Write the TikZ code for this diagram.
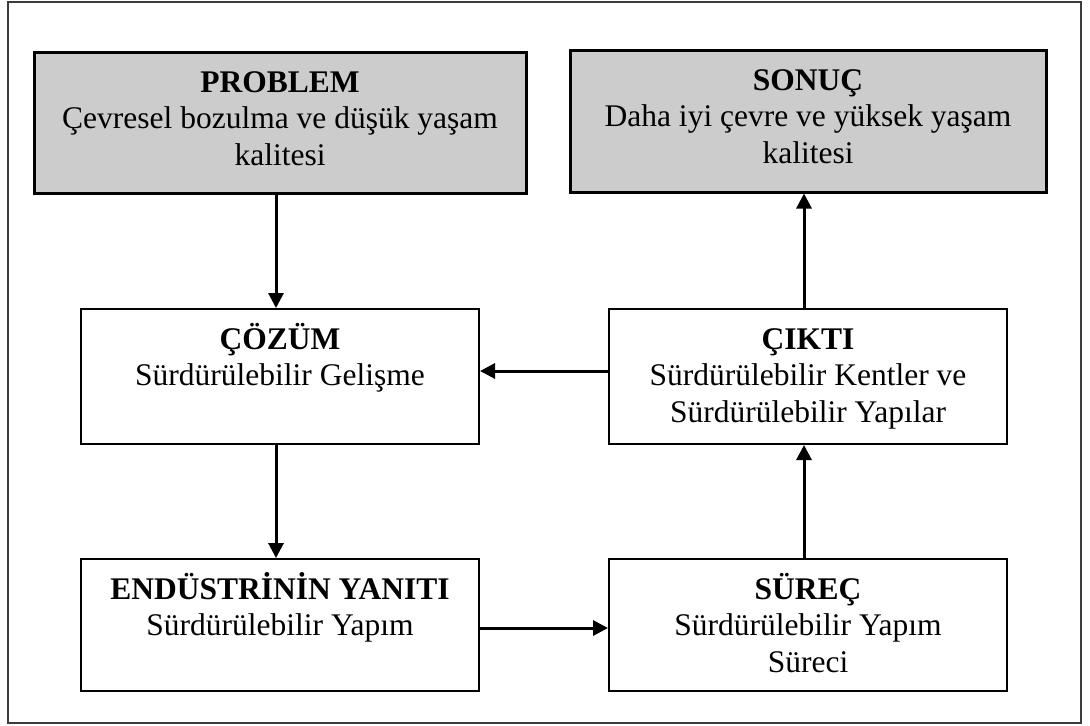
\documentclass[tikz,border=0pt]{standalone}
\usepackage{fontspec}
\setmainfont{Liberation Serif}
\usetikzlibrary{arrows.meta}
\definecolor{boxgray}{RGB}{204,204,204}
\definecolor{framegray}{RGB}{60,60,60}
\newcommand{\bxt}[3]{\parbox[c][#2][t]{#1}{\centering\rule{0pt}{20pt}#3}}
\begin{document}
\begin{tikzpicture}[x=0.5pt,y=-0.5pt,
  graybox/.style={draw, line width=1.5pt, fill=boxgray, inner sep=0pt},
  whitebox/.style={draw, line width=1pt, fill=white, inner sep=0pt},
  conn/.style={line width=1.5pt, -{Triangle[length=7.5pt,width=7.5pt]}},
  font=\fontsize{15.75pt}{18.25pt}\selectfont]
\useasboundingbox (0,0) rectangle (1090,725);
\draw[line width=0.75pt, framegray] (8,2) rectangle (1081,723);

\node[graybox] (problem) at (280,122.5) {\bxt{246pt}{70.5pt}{\textbf{PROBLEM}\\Çevresel bozulma ve düşük yaşam\\kalitesi}};
\node[graybox] (sonuc) at (808,121) {\bxt{238pt}{71pt}{\textbf{SONUÇ}\\Daha iyi çevre ve yüksek yaşam\\kalitesi}};
\node[whitebox] (cozum) at (280,376.5) {\bxt{199pt}{67.5pt}{\textbf{ÇÖZÜM}\\Sürdürülebilir Gelişme}};
\node[whitebox] (cikti) at (808,376.5) {\bxt{199pt}{67.5pt}{\textbf{ÇIKTI}\\Sürdürülebilir Kentler ve\\Sürdürülebilir Yapılar}};
\node[whitebox] (endustri) at (280,625) {\bxt{199pt}{66pt}{\textbf{ENDÜSTRİNİN YANITI}\\Sürdürülebilir Yapım}};
\node[whitebox] (surec) at (808,625) {\bxt{199pt}{66pt}{\textbf{SÜREÇ}\\Sürdürülebilir Yapım\\Süreci}};

\draw[conn] ([xshift=-2pt]problem.south) -- ([xshift=-2pt]cozum.north);
\draw[conn] ([xshift=-2pt]cozum.south) -- ([xshift=-2pt]endustri.north);
\draw[conn] ([yshift=-1.5pt]endustri.east) -- ([yshift=-1.5pt]surec.west);
\draw[conn] ([xshift=-2pt]surec.north) -- ([xshift=-2pt]cikti.south);
\draw[conn] ([yshift=2.75pt]cikti.west) -- ([yshift=2.75pt]cozum.east);
\draw[conn] ([xshift=-2pt]cikti.north) -- ([xshift=-2pt]sonuc.south);
\end{tikzpicture}
\end{document}
